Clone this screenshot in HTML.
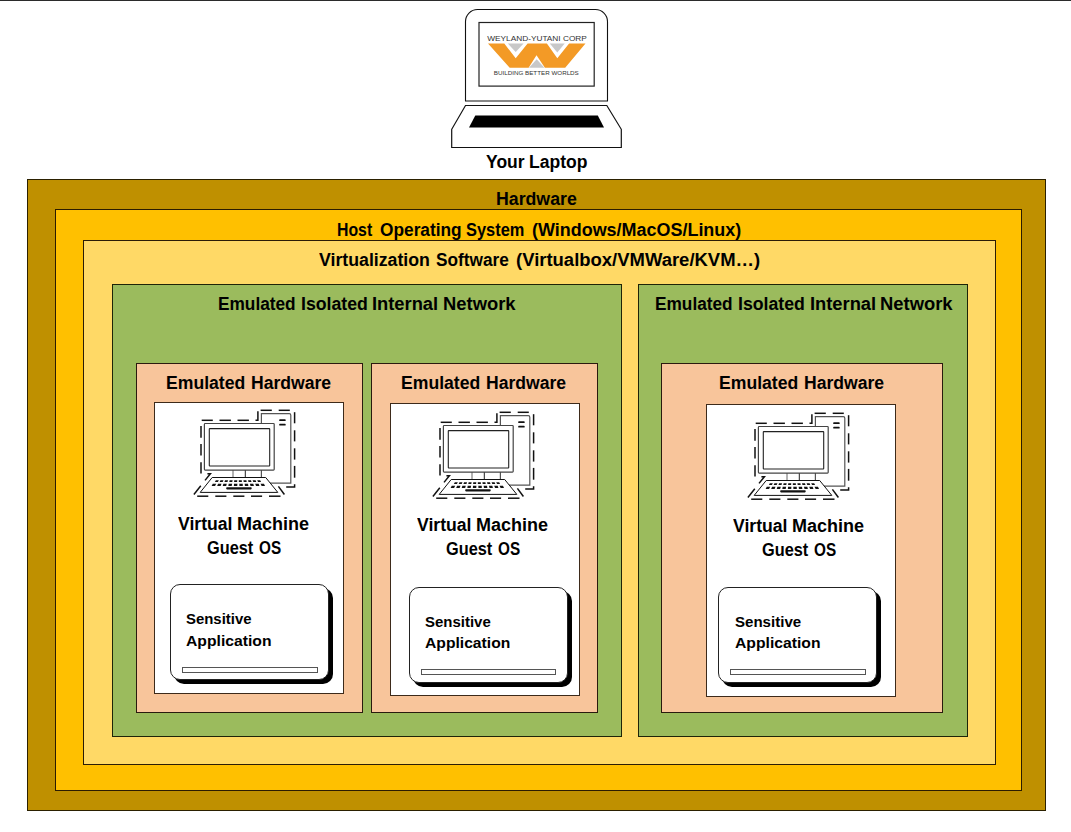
<!DOCTYPE html><html><head><meta charset="utf-8"><style>
html,body{margin:0;padding:0;background:#fff;}
body{width:1071px;height:832px;position:relative;overflow:hidden;font-family:"Liberation Sans",sans-serif;font-weight:bold;color:#000;}
.b{position:absolute;box-sizing:border-box;border:1px solid #111;}
.t{position:absolute;white-space:nowrap;transform-origin:0 0;line-height:1;}
svg{position:absolute;overflow:visible;}
</style></head><body>
<div style="position:absolute;left:0;top:0;width:1071px;height:1px;background:#2b2b2b"></div>

<div class="b" style="left:27px;top:179px;width:1019px;height:632px;background:#BF9000;border-color:#2b2000;"></div>
<div class="b" style="left:55px;top:209px;width:967px;height:582px;background:#FFC000;border-color:#2b1c00;"></div>
<div class="b" style="left:83px;top:240px;width:913px;height:525px;background:#FFD966;border-color:#2b1c05;"></div>
<div class="b" style="left:112px;top:284px;width:510px;height:453px;background:#9BBB5D;border-color:#1e2408;"></div>
<div class="b" style="left:638px;top:284px;width:330px;height:453px;background:#9BBB5D;border-color:#1e2408;"></div>
<div class="b" style="left:136px;top:363px;width:227px;height:350px;background:#F8C59B;border-color:#2a1a0e;"></div>
<div class="b" style="left:371px;top:363px;width:227px;height:350px;background:#F8C59B;border-color:#2a1a0e;"></div>
<div class="b" style="left:661px;top:363px;width:282px;height:350px;background:#F8C59B;border-color:#2a1a0e;"></div>
<div class="b" style="left:154px;top:402px;width:190px;height:292px;background:#FFFFFF;border-color:#3d2a1a;"></div>
<div class="b" style="left:390px;top:403px;width:190px;height:293px;background:#FFFFFF;border-color:#3d2a1a;"></div>
<div class="b" style="left:706px;top:404px;width:190px;height:293px;background:#FFFFFF;border-color:#3d2a1a;"></div>
<div class="b" style="left:170px;top:584px;width:159px;height:96px;background:#fff;border-color:#222;border-radius:10px;box-shadow:4px 4px 0 #000"></div>
<div class="b" style="left:182px;top:667px;width:136px;height:6px;background:#fff;border-color:#555"></div>
<div class="b" style="left:409px;top:587px;width:159px;height:96px;background:#fff;border-color:#222;border-radius:10px;box-shadow:4px 4px 0 #000"></div>
<div class="b" style="left:421px;top:669px;width:135px;height:6px;background:#fff;border-color:#555"></div>
<div class="b" style="left:718px;top:587px;width:159px;height:96px;background:#fff;border-color:#222;border-radius:10px;box-shadow:4px 4px 0 #000"></div>
<div class="b" style="left:730px;top:669px;width:136px;height:6px;background:#fff;border-color:#555"></div>
<svg style="left:185px;top:400px" width="120" height="100" viewBox="0 0 120 100"><g fill="none"><path d="M76.4,83.1 L76.4,13.7 L104.3,13.7 Q105.8,13.7 105.8,15.2 L105.8,83.1 Z" fill="#fff" stroke="#555" stroke-width="1.2"/><rect x="94.2" y="19.2" width="6.5" height="1.9" rx="0.7" fill="#111"/><rect x="94.2" y="23.7" width="6.5" height="1.9" rx="0.7" fill="#111"/><line x1="48" y1="70" x2="48" y2="77.5" stroke="#666" stroke-width="1"/><line x1="60.3" y1="70" x2="60.3" y2="77.5" stroke="#222" stroke-width="1"/><rect x="19.4" y="23.5" width="69.8" height="46.6" rx="0.8" fill="#fff" stroke="#444" stroke-width="1.2"/><rect x="24.3" y="28.6" width="60.4" height="37.4" rx="0.5" fill="#fff" stroke="#222" stroke-width="1.1"/><polygon points="27.2,77.5 80.7,77.5 92.8,92.4 15.2,92.4" fill="#fff" stroke="#111" stroke-width="1"/><polygon points="30.84,80.2 33.84,80.2 32.86,82.1 29.86,82.1" fill="#111"/><polygon points="35.43,80.2 38.43,80.2 37.67,82.1 34.67,82.1" fill="#111"/><polygon points="40.03,80.2 43.03,80.2 42.47,82.1 39.47,82.1" fill="#111"/><polygon points="44.63,80.2 47.63,80.2 47.27,82.1 44.27,82.1" fill="#111"/><polygon points="49.22,80.2 52.22,80.2 52.08,82.1 49.08,82.1" fill="#111"/><polygon points="53.82,80.2 56.82,80.2 56.88,82.1 53.88,82.1" fill="#111"/><polygon points="58.42,80.2 61.42,80.2 61.68,82.1 58.68,82.1" fill="#111"/><polygon points="63.01,80.2 66.01,80.2 66.49,82.1 63.49,82.1" fill="#111"/><polygon points="67.61,80.2 70.61,80.2 71.29,82.1 68.29,82.1" fill="#111"/><polygon points="72.21,80.2 75.21,80.2 76.09,82.1 73.09,82.1" fill="#111"/><polygon points="27.77,83.8 31.17,83.8 30.06,85.9 26.66,85.9" fill="#111"/><polygon points="33.08,83.8 36.48,83.8 35.61,85.9 32.21,85.9" fill="#111"/><polygon points="38.39,83.8 41.79,83.8 41.16,85.9 37.76,85.9" fill="#111"/><polygon points="43.70,83.8 47.10,83.8 46.71,85.9 43.31,85.9" fill="#111"/><polygon points="49.01,83.8 52.41,83.8 52.26,85.9 48.86,85.9" fill="#111"/><polygon points="54.32,83.8 57.72,83.8 57.81,85.9 54.41,85.9" fill="#111"/><polygon points="59.63,83.8 63.03,83.8 63.36,85.9 59.96,85.9" fill="#111"/><polygon points="64.94,83.8 68.34,83.8 68.91,85.9 65.51,85.9" fill="#111"/><polygon points="70.25,83.8 73.65,83.8 74.46,85.9 71.06,85.9" fill="#111"/><polygon points="75.56,83.8 78.96,83.8 80.01,85.9 76.61,85.9" fill="#111"/><rect x="41.2" y="87.3" width="25.5" height="2.1" rx="0.8" fill="#111"/><polyline points="16.7,20.3 27.8,20.3" stroke="#111" stroke-width="1.5" stroke-linejoin="miter"/><polyline points="34.5,20.3 45.9,20.3" stroke="#111" stroke-width="1.5" stroke-linejoin="miter"/><polyline points="52.5,20.3 63.9,20.3" stroke="#111" stroke-width="1.5" stroke-linejoin="miter"/><polyline points="70.5,20.3 72.9,20.3 72.9,11.3" stroke="#111" stroke-width="1.5" stroke-linejoin="miter"/><polyline points="75.6,10.3 86.8,10.3" stroke="#111" stroke-width="1.5" stroke-linejoin="miter"/><polyline points="93.7,10.3 104.8,10.3" stroke="#111" stroke-width="1.5" stroke-linejoin="miter"/><polyline points="109.6,12.2 109.6,23.3" stroke="#111" stroke-width="1.5" stroke-linejoin="miter"/><polyline points="109.6,30.3 109.6,41.4" stroke="#111" stroke-width="1.5" stroke-linejoin="miter"/><polyline points="109.6,48.3 109.6,59.6" stroke="#111" stroke-width="1.5" stroke-linejoin="miter"/><polyline points="109.6,65.9 109.6,77.7" stroke="#111" stroke-width="1.5" stroke-linejoin="miter"/><polyline points="109.6,84.3 109.6,87.0 101.2,87.0" stroke="#111" stroke-width="1.5" stroke-linejoin="miter"/><polyline points="93.4,86.4 99.4,94.5" stroke="#111" stroke-width="1.5" stroke-linejoin="miter"/><polyline points="84.0,96.2 95.5,96.2" stroke="#111" stroke-width="1.5" stroke-linejoin="miter"/><polyline points="66.0,96.2 77.1,96.2" stroke="#111" stroke-width="1.5" stroke-linejoin="miter"/><polyline points="48.3,96.2 59.4,96.2" stroke="#111" stroke-width="1.5" stroke-linejoin="miter"/><polyline points="30.3,96.2 41.4,96.2" stroke="#111" stroke-width="1.5" stroke-linejoin="miter"/><polyline points="12.2,96.2 23.3,96.2" stroke="#111" stroke-width="1.5" stroke-linejoin="miter"/><polyline points="8.9,94.5 15.8,85.8" stroke="#111" stroke-width="1.5" stroke-linejoin="miter"/><polyline points="20.0,80.4 25.4,73.8 22.4,73.8" stroke="#111" stroke-width="1.5" stroke-linejoin="miter"/><polyline points="16.0,62.3 16.0,73.5" stroke="#111" stroke-width="1.5" stroke-linejoin="miter"/><polyline points="16.0,44.0 16.0,55.4" stroke="#111" stroke-width="1.5" stroke-linejoin="miter"/><polyline points="16.0,26.0 16.0,37.8" stroke="#111" stroke-width="1.5" stroke-linejoin="miter"/></g></svg>
<svg style="left:423.9px;top:401.8px" width="120" height="100" viewBox="0 0 120 100"><g fill="none"><path d="M76.4,83.1 L76.4,13.7 L104.3,13.7 Q105.8,13.7 105.8,15.2 L105.8,83.1 Z" fill="#fff" stroke="#555" stroke-width="1.2"/><rect x="94.2" y="19.2" width="6.5" height="1.9" rx="0.7" fill="#111"/><rect x="94.2" y="23.7" width="6.5" height="1.9" rx="0.7" fill="#111"/><line x1="48" y1="70" x2="48" y2="77.5" stroke="#666" stroke-width="1"/><line x1="60.3" y1="70" x2="60.3" y2="77.5" stroke="#222" stroke-width="1"/><rect x="19.4" y="23.5" width="69.8" height="46.6" rx="0.8" fill="#fff" stroke="#444" stroke-width="1.2"/><rect x="24.3" y="28.6" width="60.4" height="37.4" rx="0.5" fill="#fff" stroke="#222" stroke-width="1.1"/><polygon points="27.2,77.5 80.7,77.5 92.8,92.4 15.2,92.4" fill="#fff" stroke="#111" stroke-width="1"/><polygon points="30.84,80.2 33.84,80.2 32.86,82.1 29.86,82.1" fill="#111"/><polygon points="35.43,80.2 38.43,80.2 37.67,82.1 34.67,82.1" fill="#111"/><polygon points="40.03,80.2 43.03,80.2 42.47,82.1 39.47,82.1" fill="#111"/><polygon points="44.63,80.2 47.63,80.2 47.27,82.1 44.27,82.1" fill="#111"/><polygon points="49.22,80.2 52.22,80.2 52.08,82.1 49.08,82.1" fill="#111"/><polygon points="53.82,80.2 56.82,80.2 56.88,82.1 53.88,82.1" fill="#111"/><polygon points="58.42,80.2 61.42,80.2 61.68,82.1 58.68,82.1" fill="#111"/><polygon points="63.01,80.2 66.01,80.2 66.49,82.1 63.49,82.1" fill="#111"/><polygon points="67.61,80.2 70.61,80.2 71.29,82.1 68.29,82.1" fill="#111"/><polygon points="72.21,80.2 75.21,80.2 76.09,82.1 73.09,82.1" fill="#111"/><polygon points="27.77,83.8 31.17,83.8 30.06,85.9 26.66,85.9" fill="#111"/><polygon points="33.08,83.8 36.48,83.8 35.61,85.9 32.21,85.9" fill="#111"/><polygon points="38.39,83.8 41.79,83.8 41.16,85.9 37.76,85.9" fill="#111"/><polygon points="43.70,83.8 47.10,83.8 46.71,85.9 43.31,85.9" fill="#111"/><polygon points="49.01,83.8 52.41,83.8 52.26,85.9 48.86,85.9" fill="#111"/><polygon points="54.32,83.8 57.72,83.8 57.81,85.9 54.41,85.9" fill="#111"/><polygon points="59.63,83.8 63.03,83.8 63.36,85.9 59.96,85.9" fill="#111"/><polygon points="64.94,83.8 68.34,83.8 68.91,85.9 65.51,85.9" fill="#111"/><polygon points="70.25,83.8 73.65,83.8 74.46,85.9 71.06,85.9" fill="#111"/><polygon points="75.56,83.8 78.96,83.8 80.01,85.9 76.61,85.9" fill="#111"/><rect x="41.2" y="87.3" width="25.5" height="2.1" rx="0.8" fill="#111"/><polyline points="16.7,20.3 27.8,20.3" stroke="#111" stroke-width="1.5" stroke-linejoin="miter"/><polyline points="34.5,20.3 45.9,20.3" stroke="#111" stroke-width="1.5" stroke-linejoin="miter"/><polyline points="52.5,20.3 63.9,20.3" stroke="#111" stroke-width="1.5" stroke-linejoin="miter"/><polyline points="70.5,20.3 72.9,20.3 72.9,11.3" stroke="#111" stroke-width="1.5" stroke-linejoin="miter"/><polyline points="75.6,10.3 86.8,10.3" stroke="#111" stroke-width="1.5" stroke-linejoin="miter"/><polyline points="93.7,10.3 104.8,10.3" stroke="#111" stroke-width="1.5" stroke-linejoin="miter"/><polyline points="109.6,12.2 109.6,23.3" stroke="#111" stroke-width="1.5" stroke-linejoin="miter"/><polyline points="109.6,30.3 109.6,41.4" stroke="#111" stroke-width="1.5" stroke-linejoin="miter"/><polyline points="109.6,48.3 109.6,59.6" stroke="#111" stroke-width="1.5" stroke-linejoin="miter"/><polyline points="109.6,65.9 109.6,77.7" stroke="#111" stroke-width="1.5" stroke-linejoin="miter"/><polyline points="109.6,84.3 109.6,87.0 101.2,87.0" stroke="#111" stroke-width="1.5" stroke-linejoin="miter"/><polyline points="93.4,86.4 99.4,94.5" stroke="#111" stroke-width="1.5" stroke-linejoin="miter"/><polyline points="84.0,96.2 95.5,96.2" stroke="#111" stroke-width="1.5" stroke-linejoin="miter"/><polyline points="66.0,96.2 77.1,96.2" stroke="#111" stroke-width="1.5" stroke-linejoin="miter"/><polyline points="48.3,96.2 59.4,96.2" stroke="#111" stroke-width="1.5" stroke-linejoin="miter"/><polyline points="30.3,96.2 41.4,96.2" stroke="#111" stroke-width="1.5" stroke-linejoin="miter"/><polyline points="12.2,96.2 23.3,96.2" stroke="#111" stroke-width="1.5" stroke-linejoin="miter"/><polyline points="8.9,94.5 15.8,85.8" stroke="#111" stroke-width="1.5" stroke-linejoin="miter"/><polyline points="20.0,80.4 25.4,73.8 22.4,73.8" stroke="#111" stroke-width="1.5" stroke-linejoin="miter"/><polyline points="16.0,62.3 16.0,73.5" stroke="#111" stroke-width="1.5" stroke-linejoin="miter"/><polyline points="16.0,44.0 16.0,55.4" stroke="#111" stroke-width="1.5" stroke-linejoin="miter"/><polyline points="16.0,26.0 16.0,37.8" stroke="#111" stroke-width="1.5" stroke-linejoin="miter"/></g></svg>
<svg style="left:739.4px;top:403.0px" width="120" height="100" viewBox="0 0 120 100"><g fill="none"><path d="M76.4,83.1 L76.4,13.7 L104.3,13.7 Q105.8,13.7 105.8,15.2 L105.8,83.1 Z" fill="#fff" stroke="#555" stroke-width="1.2"/><rect x="94.2" y="19.2" width="6.5" height="1.9" rx="0.7" fill="#111"/><rect x="94.2" y="23.7" width="6.5" height="1.9" rx="0.7" fill="#111"/><line x1="48" y1="70" x2="48" y2="77.5" stroke="#666" stroke-width="1"/><line x1="60.3" y1="70" x2="60.3" y2="77.5" stroke="#222" stroke-width="1"/><rect x="19.4" y="23.5" width="69.8" height="46.6" rx="0.8" fill="#fff" stroke="#444" stroke-width="1.2"/><rect x="24.3" y="28.6" width="60.4" height="37.4" rx="0.5" fill="#fff" stroke="#222" stroke-width="1.1"/><polygon points="27.2,77.5 80.7,77.5 92.8,92.4 15.2,92.4" fill="#fff" stroke="#111" stroke-width="1"/><polygon points="30.84,80.2 33.84,80.2 32.86,82.1 29.86,82.1" fill="#111"/><polygon points="35.43,80.2 38.43,80.2 37.67,82.1 34.67,82.1" fill="#111"/><polygon points="40.03,80.2 43.03,80.2 42.47,82.1 39.47,82.1" fill="#111"/><polygon points="44.63,80.2 47.63,80.2 47.27,82.1 44.27,82.1" fill="#111"/><polygon points="49.22,80.2 52.22,80.2 52.08,82.1 49.08,82.1" fill="#111"/><polygon points="53.82,80.2 56.82,80.2 56.88,82.1 53.88,82.1" fill="#111"/><polygon points="58.42,80.2 61.42,80.2 61.68,82.1 58.68,82.1" fill="#111"/><polygon points="63.01,80.2 66.01,80.2 66.49,82.1 63.49,82.1" fill="#111"/><polygon points="67.61,80.2 70.61,80.2 71.29,82.1 68.29,82.1" fill="#111"/><polygon points="72.21,80.2 75.21,80.2 76.09,82.1 73.09,82.1" fill="#111"/><polygon points="27.77,83.8 31.17,83.8 30.06,85.9 26.66,85.9" fill="#111"/><polygon points="33.08,83.8 36.48,83.8 35.61,85.9 32.21,85.9" fill="#111"/><polygon points="38.39,83.8 41.79,83.8 41.16,85.9 37.76,85.9" fill="#111"/><polygon points="43.70,83.8 47.10,83.8 46.71,85.9 43.31,85.9" fill="#111"/><polygon points="49.01,83.8 52.41,83.8 52.26,85.9 48.86,85.9" fill="#111"/><polygon points="54.32,83.8 57.72,83.8 57.81,85.9 54.41,85.9" fill="#111"/><polygon points="59.63,83.8 63.03,83.8 63.36,85.9 59.96,85.9" fill="#111"/><polygon points="64.94,83.8 68.34,83.8 68.91,85.9 65.51,85.9" fill="#111"/><polygon points="70.25,83.8 73.65,83.8 74.46,85.9 71.06,85.9" fill="#111"/><polygon points="75.56,83.8 78.96,83.8 80.01,85.9 76.61,85.9" fill="#111"/><rect x="41.2" y="87.3" width="25.5" height="2.1" rx="0.8" fill="#111"/><polyline points="16.7,20.3 27.8,20.3" stroke="#111" stroke-width="1.5" stroke-linejoin="miter"/><polyline points="34.5,20.3 45.9,20.3" stroke="#111" stroke-width="1.5" stroke-linejoin="miter"/><polyline points="52.5,20.3 63.9,20.3" stroke="#111" stroke-width="1.5" stroke-linejoin="miter"/><polyline points="70.5,20.3 72.9,20.3 72.9,11.3" stroke="#111" stroke-width="1.5" stroke-linejoin="miter"/><polyline points="75.6,10.3 86.8,10.3" stroke="#111" stroke-width="1.5" stroke-linejoin="miter"/><polyline points="93.7,10.3 104.8,10.3" stroke="#111" stroke-width="1.5" stroke-linejoin="miter"/><polyline points="109.6,12.2 109.6,23.3" stroke="#111" stroke-width="1.5" stroke-linejoin="miter"/><polyline points="109.6,30.3 109.6,41.4" stroke="#111" stroke-width="1.5" stroke-linejoin="miter"/><polyline points="109.6,48.3 109.6,59.6" stroke="#111" stroke-width="1.5" stroke-linejoin="miter"/><polyline points="109.6,65.9 109.6,77.7" stroke="#111" stroke-width="1.5" stroke-linejoin="miter"/><polyline points="109.6,84.3 109.6,87.0 101.2,87.0" stroke="#111" stroke-width="1.5" stroke-linejoin="miter"/><polyline points="93.4,86.4 99.4,94.5" stroke="#111" stroke-width="1.5" stroke-linejoin="miter"/><polyline points="84.0,96.2 95.5,96.2" stroke="#111" stroke-width="1.5" stroke-linejoin="miter"/><polyline points="66.0,96.2 77.1,96.2" stroke="#111" stroke-width="1.5" stroke-linejoin="miter"/><polyline points="48.3,96.2 59.4,96.2" stroke="#111" stroke-width="1.5" stroke-linejoin="miter"/><polyline points="30.3,96.2 41.4,96.2" stroke="#111" stroke-width="1.5" stroke-linejoin="miter"/><polyline points="12.2,96.2 23.3,96.2" stroke="#111" stroke-width="1.5" stroke-linejoin="miter"/><polyline points="8.9,94.5 15.8,85.8" stroke="#111" stroke-width="1.5" stroke-linejoin="miter"/><polyline points="20.0,80.4 25.4,73.8 22.4,73.8" stroke="#111" stroke-width="1.5" stroke-linejoin="miter"/><polyline points="16.0,62.3 16.0,73.5" stroke="#111" stroke-width="1.5" stroke-linejoin="miter"/><polyline points="16.0,44.0 16.0,55.4" stroke="#111" stroke-width="1.5" stroke-linejoin="miter"/><polyline points="16.0,26.0 16.0,37.8" stroke="#111" stroke-width="1.5" stroke-linejoin="miter"/></g></svg>
<svg style="left:0;top:0" width="1071" height="160" viewBox="0 0 1071 160">
<path d="M465.5,101 L465.5,21.5 A12,12 0 0 1 477.5,9.5 L595.5,9.5 A12,12 0 0 1 607.5,21.5 L607.5,101 Z" fill="#fff" stroke="#111" stroke-width="1.1"/>
<rect x="479" y="22.5" width="115.2" height="63.6" fill="#fff" stroke="#222" stroke-width="1.2"/>
<path d="M465.5,105.5 L606.8,105.5 L621.3,129.3 L621.3,147.5 L451.7,147.5 L451.7,129.3 Z" fill="#fff" stroke="#111" stroke-width="1.2"/>
<polygon points="475.3,115.6 597.8,115.6 604,127.4 469,127.4" fill="#000"/>
<text x="487.2" y="40.7" font-family="Liberation Sans" font-weight="normal" font-size="6.4" fill="#333" textLength="99.7" lengthAdjust="spacingAndGlyphs">WEYLAND-YUTANI CORP</text>
<polygon points="488,43.5 504.3,43.5 515.7,58.3 527.6,43.5 546.9,43.5 557.3,58.3 569.1,43.5 585.5,43.5 565.2,67.7 544.9,67.7 536.5,55.3 528.6,67.7 509.7,67.7" fill="#F39A26"/>
<polygon points="507.8,43.5 523.6,43.5 515.7,51.9" fill="#C8C8C8"/>
<polygon points="549.8,43.5 564.7,43.5 557.3,52.4" fill="#C8C8C8"/>
<polygon points="529,67.7 544.4,67.7 536.7,59.3" fill="#C8C8C8"/>
<text x="493.8" y="74.6" font-family="Liberation Sans" font-weight="normal" font-size="5.4" fill="#333" textLength="85" lengthAdjust="spacingAndGlyphs">BUILDING BETTER WORLDS</text>
</svg>
<div class="t" style="left:486.40px;top:154px;font-size:17.5px;transform:scaleX(1.0012)">Your</div>
<div class="t" style="left:528.50px;top:154px;font-size:17.5px;transform:scaleX(1.0030)">Laptop</div>
<div class="t" style="left:495.59px;top:191px;font-size:17.5px;transform:scaleX(1.0123)">Hardware</div>
<div class="t" style="left:336.90px;top:222px;font-size:17.5px;transform:scaleX(0.9038)">Host</div>
<div class="t" style="left:380.00px;top:222px;font-size:17.5px;transform:scaleX(0.9883)">Operating</div>
<div class="t" style="left:466.30px;top:222px;font-size:17.5px;transform:scaleX(0.9368)">System</div>
<div class="t" style="left:531.60px;top:222px;font-size:17.5px;transform:scaleX(1.0257)">(Windows/MacOS/Linux)</div>
<div class="t" style="left:319.00px;top:252px;font-size:17.5px;transform:scaleX(1.0123)">Virtualization</div>
<div class="t" style="left:435.60px;top:252px;font-size:17.5px;transform:scaleX(0.9842)">Software</div>
<div class="t" style="left:516.00px;top:252px;font-size:17.5px;transform:scaleX(1.0551)">(Virtualbox/VMWare/KVM…)</div>
<div class="t" style="left:218.31px;top:296px;font-size:17.5px;transform:scaleX(0.9860)">Emulated</div>
<div class="t" style="left:300.79px;top:296px;font-size:17.5px;transform:scaleX(1.0118)">Isolated</div>
<div class="t" style="left:372.45px;top:296px;font-size:17.5px;transform:scaleX(1.0465)">Internal</div>
<div class="t" style="left:442.65px;top:296px;font-size:17.5px;transform:scaleX(1.0511)">Network</div>
<div class="t" style="left:655.41px;top:296px;font-size:17.5px;transform:scaleX(0.9860)">Emulated</div>
<div class="t" style="left:737.89px;top:296px;font-size:17.5px;transform:scaleX(1.0118)">Isolated</div>
<div class="t" style="left:809.55px;top:296px;font-size:17.5px;transform:scaleX(1.0465)">Internal</div>
<div class="t" style="left:879.75px;top:296px;font-size:17.5px;transform:scaleX(1.0511)">Network</div>
<div class="t" style="left:166.09px;top:375px;font-size:17.5px;transform:scaleX(1.0068)">Emulated</div>
<div class="t" style="left:251.00px;top:375px;font-size:17.5px;transform:scaleX(1.0035)">Hardware</div>
<div class="t" style="left:401.09px;top:375px;font-size:17.5px;transform:scaleX(1.0068)">Emulated</div>
<div class="t" style="left:486.00px;top:375px;font-size:17.5px;transform:scaleX(1.0035)">Hardware</div>
<div class="t" style="left:719.49px;top:375px;font-size:17.5px;transform:scaleX(1.0068)">Emulated</div>
<div class="t" style="left:804.40px;top:375px;font-size:17.5px;transform:scaleX(1.0035)">Hardware</div>
<div class="t" style="left:177.90px;top:516px;font-size:17.5px;transform:scaleX(1.0060)">Virtual</div>
<div class="t" style="left:236.97px;top:516px;font-size:17.5px;transform:scaleX(1.0291)">Machine</div>
<div class="t" style="left:207.00px;top:540px;font-size:17.5px;transform:scaleX(0.9323)">Guest</div>
<div class="t" style="left:258.70px;top:540px;font-size:17.5px;transform:scaleX(0.8736)">OS</div>
<div class="t" style="left:417.10px;top:517px;font-size:17.5px;transform:scaleX(1.0060)">Virtual</div>
<div class="t" style="left:476.17px;top:517px;font-size:17.5px;transform:scaleX(1.0291)">Machine</div>
<div class="t" style="left:446.20px;top:541px;font-size:17.5px;transform:scaleX(0.9323)">Guest</div>
<div class="t" style="left:497.90px;top:541px;font-size:17.5px;transform:scaleX(0.8736)">OS</div>
<div class="t" style="left:732.80px;top:518px;font-size:17.5px;transform:scaleX(1.0060)">Virtual</div>
<div class="t" style="left:791.87px;top:518px;font-size:17.5px;transform:scaleX(1.0291)">Machine</div>
<div class="t" style="left:761.90px;top:542px;font-size:17.5px;transform:scaleX(0.9323)">Guest</div>
<div class="t" style="left:813.60px;top:542px;font-size:17.5px;transform:scaleX(0.8736)">OS</div>
<div class="t" style="left:186.40px;top:611px;font-size:15.5px;transform:scaleX(0.9629)">Sensitive</div>
<div class="t" style="left:186.40px;top:633px;font-size:15.5px;transform:scaleX(1.0129)">Application</div>
<div class="t" style="left:425.30px;top:614px;font-size:15.5px;transform:scaleX(0.9658)">Sensitive</div>
<div class="t" style="left:425.30px;top:635px;font-size:15.5px;transform:scaleX(1.0105)">Application</div>
<div class="t" style="left:735.30px;top:614px;font-size:15.5px;transform:scaleX(0.9716)">Sensitive</div>
<div class="t" style="left:735.30px;top:635px;font-size:15.5px;transform:scaleX(1.0141)">Application</div>
</body></html>
